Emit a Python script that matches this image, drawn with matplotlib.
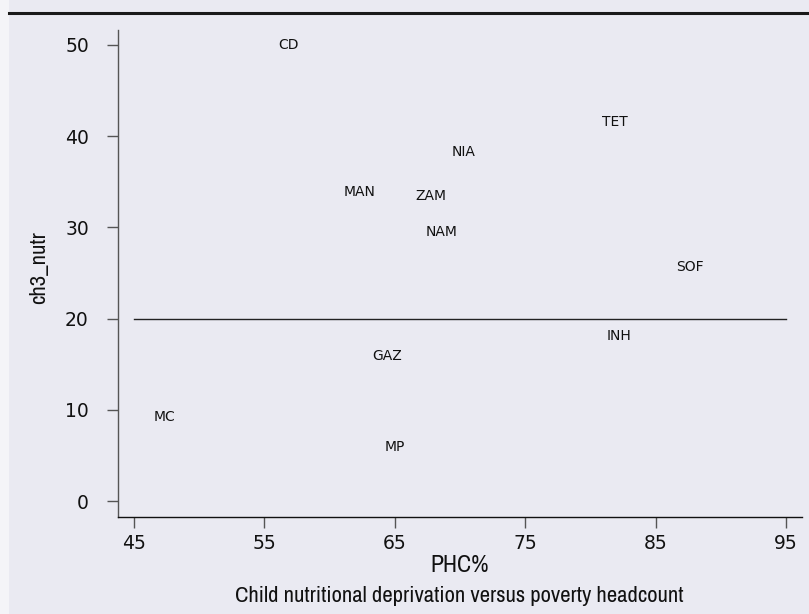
import matplotlib
matplotlib.use("Agg")
import matplotlib.pyplot as plt
from matplotlib.lines import Line2D
from matplotlib.patches import Rectangle

# Data
regions = ["CD", "MAN", "ZAM", "NIA", "NAM", "TET", "SOF", "INH", "GAZ", "MC", "MP"]
phc = [55.7, 60.7, 66.2, 69.0, 67.0, 80.5, 86.2, 80.9, 62.9, 46.1, 63.8]
ch3_nutr = [50.0, 33.9, 33.4, 38.3, 29.5, 41.6, 25.7, 18.1, 15.9, 9.2, 5.9]
ref_line_x = [45, 95]
ref_line_y = [20, 20]
xticks = [45, 55, 65, 75, 85, 95]
yticks = [0, 10, 20, 30, 40, 50]
caption = "Child nutritional deprivation versus poverty headcount"

bg = "#eaeaf2"
narrow = ["Archivo Narrow", "PT Sans Narrow", "DejaVu Sans"]

fig = plt.figure(figsize=(8.09, 6.14), dpi=100, facecolor=bg)
fig.patches.append(Rectangle((0, 0), 9 / 809, 1, transform=fig.transFigure,
                             facecolor="#f4f4f8", edgecolor="none", zorder=0))
fig.lines.append(Line2D([9 / 809, 1], [1 - 13 / 614, 1 - 13 / 614],
                        transform=fig.transFigure, color="#1a1a1a", lw=2.2))

ax = fig.add_axes([118 / 809, 1 - 517 / 614, (802 - 118) / 809, (517 - 30) / 614])
ax.set_facecolor(bg)
ax.set_xlim(43.77, 96.23)
ax.set_ylim(-1.75, 51.64)

for s in ["top", "right"]:
    ax.spines[s].set_visible(False)
ax.spines["left"].set_color("#555555")
ax.spines["bottom"].set_color("#111111")
ax.spines["left"].set_linewidth(1.0)
ax.spines["bottom"].set_linewidth(1.0)

ax.set_xticks(xticks)
ax.set_yticks(yticks)
ax.tick_params(axis="both", length=8, width=1, color="#555555", labelsize=13.5,
               labelcolor="#111111")
ax.tick_params(axis="y", pad=13)
ax.tick_params(axis="x", pad=4)
for lab in ax.get_xticklabels() + ax.get_yticklabels():
    lab.set_family("DejaVu Sans")

ax.plot(ref_line_x, ref_line_y, color="#222222", lw=1.0)

for name, x, y in zip(regions, phc, ch3_nutr):
    ax.annotate(name, (x, y), xytext=(5, 0), textcoords="offset pixels",
                ha="left", va="center", fontsize=10, color="#111111",
                family="DejaVu Sans")

# caption, sized to match the reference width
cap = fig.text(459 / 809, 1 - 596 / 614, caption, ha="center", va="center",
               fontsize=15, family=narrow, color="#111111")
r = fig.canvas.get_renderer()
w = cap.get_window_extent(r).width
fs = 15 * 448 / w
cap.set_fontsize(fs)

ax.set_xlabel("PHC%", fontsize=fs * 1.05, family=narrow, color="#111111", labelpad=2)
ax.set_ylabel("ch3_nutr", fontsize=fs, family=narrow, color="#111111", va="center")
ax.yaxis.set_label_coords((39 - 118) / 684, (517 - 268) / 487)

fig.savefig("out.png", dpi=100, facecolor=bg)
